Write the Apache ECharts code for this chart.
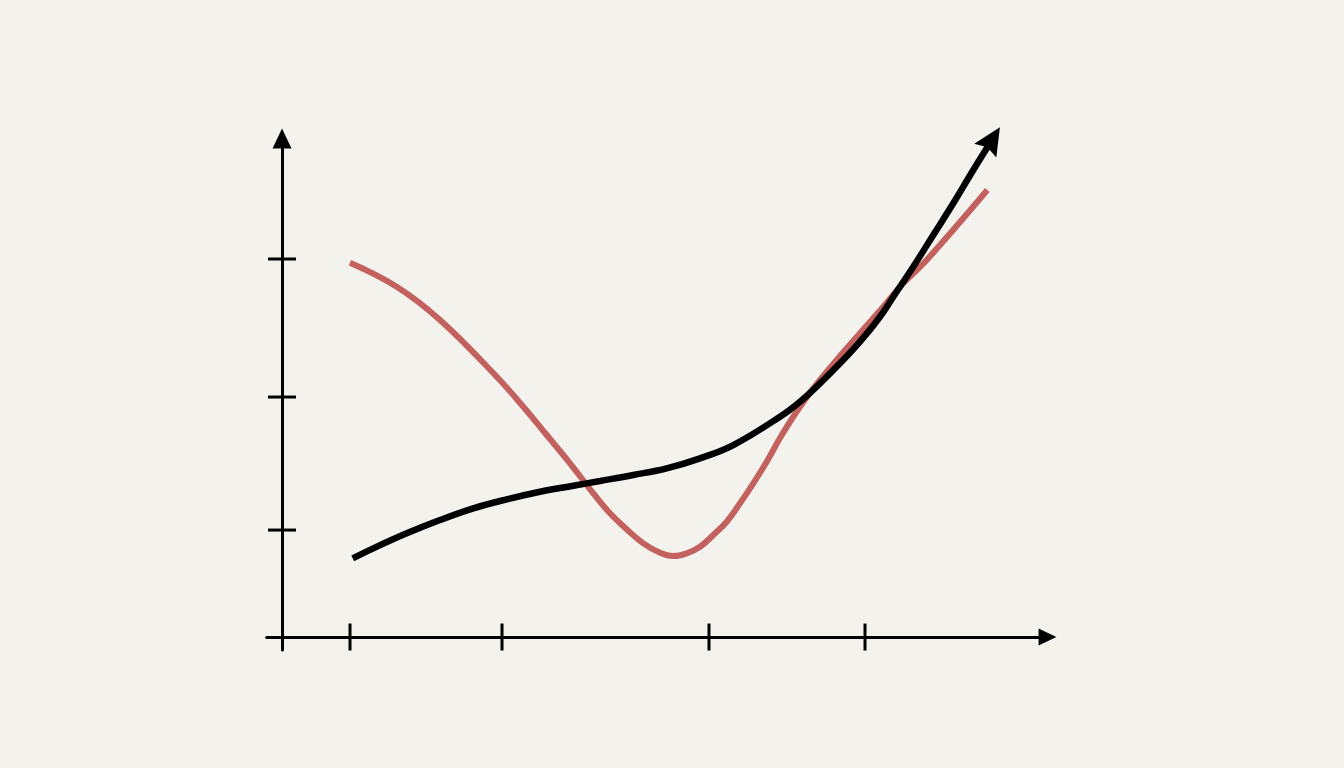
<!DOCTYPE html>
<html>
<head>
<meta charset="utf-8">
<script src="https://cdn.jsdelivr.net/npm/echarts@6/dist/echarts.min.js"></script>
<style>
html,body{margin:0;padding:0;background:#f3f2ed;}
#chart{width:1344px;height:768px;}
</style>
</head>
<body>
<div id="chart"></div>
<script>
// Tick positions (no labels in the reference)
const xTicks = [8.883, 28.74, 55.78, 76.16];
const yTicks = [21.46, 48.14, 75.83];

// Red curve
const redX = [8.883, 14.984, 20.640, 28.047, 31.522, 34.579, 37.622, 40.666, 42.848, 45.029, 47.198, 49.379, 51.117, 52.867, 54.605, 56.342, 58.093, 59.830, 61.568, 63.318, 65.056, 66.793, 69.406, 72.462, 75.506, 78.550, 81.163, 84.219, 92.136];
const redY = [75.085, 70.271, 63.591, 52.217, 46.199, 40.522, 34.844, 28.826, 24.814, 21.605, 18.796, 16.911, 16.249, 16.790, 18.114, 20.461, 23.129, 26.820, 30.832, 35.165, 39.920, 44.193, 49.890, 55.567, 60.923, 66.259, 70.953, 75.627, 89.669];

// Black curve (ends in an arrow)
const blackX = [9.236, 11.927, 16.290, 20.640, 24.990, 29.354, 33.703, 38.054, 41.542, 45.892, 50.255, 54.605, 58.955, 65.056, 67.668, 70.281, 72.894, 75.506, 78.119, 79.857, 82.469, 85.082, 87.694, 90.307, 92.828];
const blackY = [15.787, 17.793, 20.802, 23.470, 25.817, 27.623, 29.147, 30.351, 31.294, 32.497, 33.842, 35.848, 38.515, 44.193, 47.202, 50.893, 54.905, 59.238, 64.253, 68.265, 74.283, 80.642, 87.001, 93.681, 99.900];

const zip = (a, b) => a.map((v, i) => [v, b[i]]);
const ARROW = 'path://M0,0 L13,27 L0,23 L-13,27 Z';
const TRI = 'path://M0,0 L10,21 L-10,21 Z';
const blackData = zip(blackX, blackY).map((p, i, arr) => {
  if (i === arr.length - 1) {
    return {value: p, symbol: ARROW, symbolSize: [26, 27.6], symbolRotate: -32, itemStyle: {color: '#000', opacity: 1}};
  }
  return {value: p, symbol: 'none'};
});

const chart = echarts.init(document.getElementById('chart'));
chart.setOption({
  backgroundColor: '#f3f2ed',
  animation: false,
  grid: {left: 266.7, right: 296.5, top: 138.5, bottom: 118, containLabel: false},
  xAxis: {
    type: 'value', min: -2, max: 100,
    splitLine: {show: false},
    axisLabel: {show: false},
    axisTick: {show: false},
    axisLine: {show: true, onZero: true, symbol: ['none', TRI], symbolSize: [17, 21],
      lineStyle: {color: '#000', width: 3}}
  },
  yAxis: {
    type: 'value', min: -2.6, max: 100,
    splitLine: {show: false},
    axisLabel: {show: false},
    axisTick: {show: false},
    axisLine: {show: true, onZero: true, symbol: ['none', TRI], symbolSize: [19, 21],
      lineStyle: {color: '#000', width: 3}}
  },
  series: [
    {
      type: 'scatter', data: xTicks.map(v => [v, 0]),
      symbol: 'rect', symbolSize: [3, 27], itemStyle: {color: '#000', opacity: 1}, silent: true, z: 3
    },
    {
      type: 'scatter', data: yTicks.map(v => [0, v]),
      symbol: 'rect', symbolSize: [28, 3], itemStyle: {color: '#000', opacity: 1}, silent: true, z: 3
    },
    {
      type: 'line', data: zip(redX, redY), smooth: 0.4, showSymbol: false, symbol: 'none',
      lineStyle: {color: '#c3615f', width: 6, cap: 'butt'}, z: 4, clip: false
    },
    {
      type: 'line', data: blackData, smooth: 0.4, showSymbol: true,
      lineStyle: {color: '#000', width: 6.5, cap: 'butt'}, itemStyle: {color: '#000', opacity: 1}, z: 5, clip: false
    }
  ]
});
</script>
</body>
</html>
